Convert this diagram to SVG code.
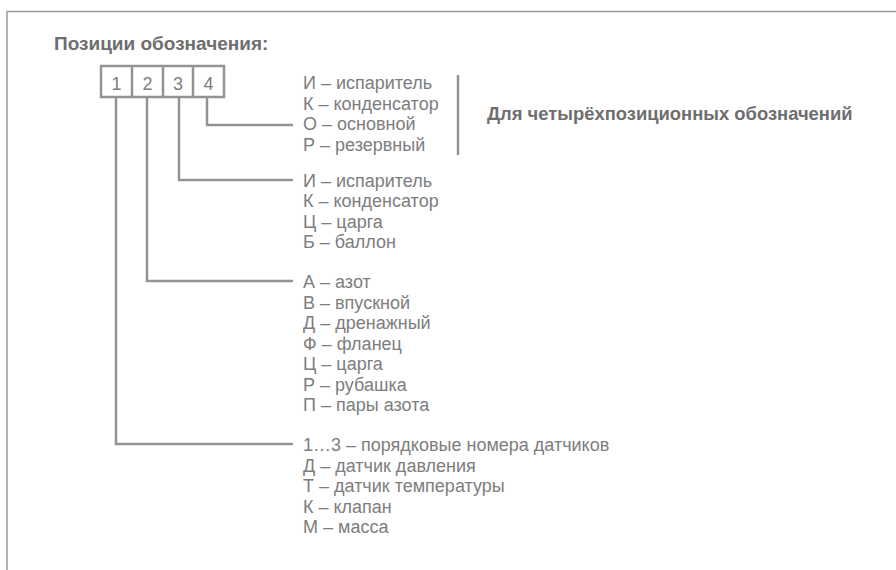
<svg xmlns="http://www.w3.org/2000/svg" width="896" height="570" viewBox="0 0 896 570">
<style>
.t{font-family:"Liberation Sans",Arial,sans-serif;font-size:18px;fill:#7d7d7d}
.b{font-family:"Liberation Sans",Arial,sans-serif;font-weight:bold;fill:#6e6e6e}
.d{font-family:"Liberation Sans",Arial,sans-serif;font-size:18px;fill:#7d7d7d;text-anchor:middle}
.ln{fill:none;stroke:#939393;stroke-width:2.5}
.box{fill:#fff;stroke:#939393;stroke-width:2.5}
</style>
<rect width="896" height="570" fill="#fff"/>
<path d="M7,570 V11.5 H896" fill="none" stroke="#9a9a9a" stroke-width="1.5"/>
<text class="b" x="54" y="50" font-size="19">Позиции обозначения:</text>
<g id="positions">
<rect class="box" x="101" y="66" width="123" height="31"/>
<path class="ln" d="M132,66 V97 M163,66 V97 M193,66 V97"/>
<text class="d" x="116.5" y="90">1</text>
<text class="d" x="147.5" y="90">2</text>
<text class="d" x="178" y="90">3</text>
<text class="d" x="208.5" y="90">4</text>
</g>
<g id="connectors">
<path class="ln" d="M207,97 V125 H293"/>
<path class="ln" d="M179,97 V180 H293"/>
<path class="ln" d="M147,97 V281 H293"/>
<path class="ln" d="M116,97 V444 H293"/>
<path d="M458,75 V155" stroke="#939393" stroke-width="2.5"/>
</g>
<g id="pos4">
<text class="t" x="303" y="89">И – испаритель</text>
<text class="t" x="303" y="109.5">К – конденсатор</text>
<text class="t" x="303" y="130">О – основной</text>
<text class="t" x="303" y="150.5">Р – резервный</text>
<text class="b" x="487" y="120" font-size="18.4">Для четырёхпозиционных обозначений</text>
</g>
<g id="pos3">
<text class="t" x="303" y="186.5">И – испаритель</text>
<text class="t" x="303" y="207">К – конденсатор</text>
<text class="t" x="303" y="227.5">Ц – царга</text>
<text class="t" x="303" y="248">Б – баллон</text>
</g>
<g id="pos2">
<text class="t" x="303" y="288">А – азот</text>
<text class="t" x="303" y="308.5">В – впускной</text>
<text class="t" x="303" y="329">Д – дренажный</text>
<text class="t" x="303" y="349.5">Ф – фланец</text>
<text class="t" x="303" y="370">Ц – царга</text>
<text class="t" x="303" y="390.5">Р – рубашка</text>
<text class="t" x="303" y="411">П – пары азота</text>
</g>
<g id="pos1">
<text class="t" x="303" y="451">1…3 – порядковые номера датчиков</text>
<text class="t" x="303" y="471.5">Д – датчик давления</text>
<text class="t" x="303" y="492">Т – датчик температуры</text>
<text class="t" x="303" y="512.5">К – клапан</text>
<text class="t" x="303" y="533">М – масса</text>
</g>
</svg>
